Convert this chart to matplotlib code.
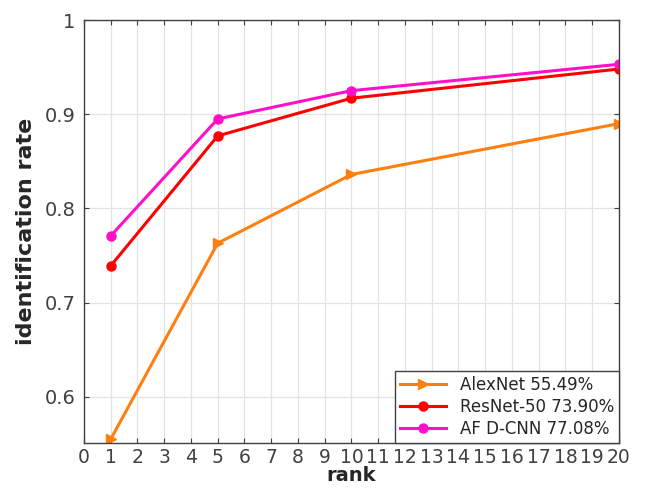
import numpy as np
import matplotlib
matplotlib.use('Agg')
import matplotlib.pyplot as plt

rank = [1, 5, 10, 20]
alexnet = [0.5549, 0.763, 0.836, 0.890]
resnet50 = [0.7390, 0.877, 0.917, 0.948]
afdcnn = [0.7708, 0.895, 0.925, 0.953]
labels = ['AlexNet 55.49%', 'ResNet-50 73.90%', 'AF D-CNN 77.08%']

fig = plt.figure(figsize=(6.46, 5.01), dpi=100)
ax = fig.add_axes([0.130, 0.116, 0.828, 0.844])

ax.plot(rank, alexnet, color='#ff7f0e', lw=2.2, marker='>', ms=6.5, label=labels[0])
ax.plot(rank, resnet50, color='#ff0000', lw=2.2, marker='o', ms=6.5, label=labels[1])
ax.plot(rank, afdcnn, color='#ff10c8', lw=2.2, marker='o', ms=6.5, label=labels[2])

ax.set_xlim(0, 20)
ax.set_ylim(0.551, 1.0)
ax.set_xticks(np.arange(0, 21))
ax.set_yticks([0.6, 0.7, 0.8, 0.9, 1.0])
ax.set_yticklabels(['0.6', '0.7', '0.8', '0.9', '1'])
ax.grid(True, color='#e3e3e3', lw=0.9)
ax.set_axisbelow(True)
ax.tick_params(direction='in', top=True, right=True, labelsize=14,
               colors='#404040', length=3.5, pad=6)
ax.tick_params(axis='x', pad=4, labelsize=13.5)
for s in ax.spines.values():
    s.set_color('#404040')
    s.set_linewidth(1.0)

ax.set_xlabel('rank', fontsize=14, fontweight='bold', labelpad=-1, color='#262626')
ax.set_ylabel('identification rate', fontsize=16, fontweight='bold', labelpad=6,
              color='#262626')

leg = ax.legend(loc='lower right', fontsize=12, fancybox=False, framealpha=1,
                edgecolor='#404040', borderpad=0.3, handlelength=2.8,
                labelspacing=0.25, borderaxespad=0.0)
leg.get_frame().set_linewidth(1.0)
for t in leg.get_texts():
    t.set_color('#262626')

fig.savefig('out.png', dpi=100)
